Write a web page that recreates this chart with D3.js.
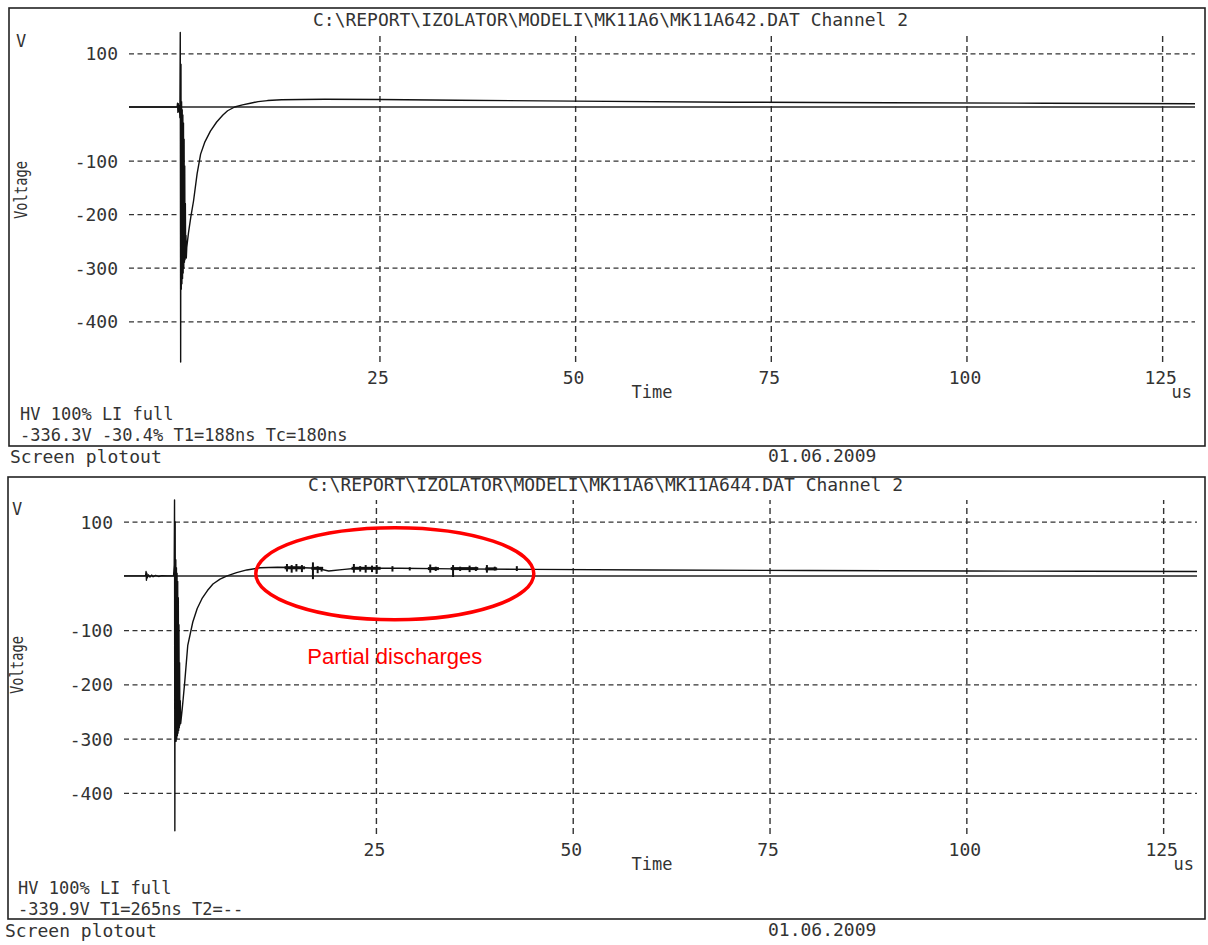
<!DOCTYPE html>
<html>
<head>
<meta charset="utf-8">
<script src="https://cdn.jsdelivr.net/npm/d3@7"></script>
<style>
  body { margin: 0; background: #fff; }
  text { font-family: "DejaVu Sans Mono", monospace; fill: #333; }
</style>
</head>
<body>
<div id="chart"></div>
<script>

// tick values shared by both plots
var voltTicks = [100, -100, -200, -300, -400];
var timeTicks = [25, 50, 75, 100, 125];

// MK11A642.DAT channel 2, [time us, voltage V]
var trace642 = [
  [-7, 0], [-1.0, 0], [-0.85, 0.5], [-0.8, 7], [-0.75, -10], [-0.7, 6], [-0.65, -8], [-0.6, 2], [-0.55, 0],
  [-0.5, -20], [-0.45, 139], [-0.4, -476], [-0.36, 80], [-0.32, -340], [-0.28, 10], [-0.24, -330],
  [-0.2, -5], [-0.16, -320], [-0.12, -15], [-0.08, -310], [-0.04, -30], [0.0, -300], [0.04, -60],
  [0.08, -290], [0.12, -110], [0.16, -285], [0.2, -180], [0.24, -280], [0.28, -240], [0.32, -282], [0.38, -262],
  [0.6, -235], [0.9, -205], [1.25, -175], [1.7, -125], [2.15, -88], [2.7, -65], [3.4, -45], [4.2, -28],
  [5.0, -15], [5.6, -7], [6.5, 0], [7.5, 4], [8.5, 7], [9.5, 10], [10.7, 12], [12.5, 13.5], [15, 14],
  [18, 14.5], [25, 14], [35, 12.5], [50, 11], [70, 9], [90, 8], [110, 7], [129.2, 6]
];

// MK11A644.DAT channel 2, [time us, voltage V]
var trace644 = [
  [-7, 0], [-4.4, 0], [-4.25, 1], [-4.2, 8], [-4.15, -8], [-4.1, 5], [-4.05, -4], [-3.9, 2], [-3.7, -2],
  [-3.5, 1.5], [-3.3, -1.5], [-3.0, 1], [-2.6, -1], [-2.2, 0.5], [-1.5, 0], [-0.7, 0],
  [-0.62, 20], [-0.58, 140], [-0.54, -470], [-0.5, 100], [-0.46, -300], [-0.42, 30], [-0.38, -305],
  [-0.34, 15], [-0.3, -300], [-0.26, 5], [-0.22, -295], [-0.18, -10], [-0.14, -290], [-0.1, -40],
  [-0.06, -285], [-0.02, -90], [0.02, -280], [0.06, -160], [0.1, -275], [0.15, -230], [0.2, -272],
  [0.4, -245], [0.72, -195], [1.1, -128], [1.74, -85], [2.3, -60], [2.9, -42], [3.6, -27], [4.3, -15],
  [5.2, -6], [6.1, 0], [7.3, 6], [8.6, 11], [10.3, 15], [12.5, 16], [15, 15.5], [17.5, 14], [19, 9],
  [21, 12], [22.5, 14], [28, 14], [35, 13], [45, 12], [60, 11], [80, 10], [100, 9], [115, 8.5], [129.3, 8]
];

// partial discharge pulses on MK11A644, [time us, high V, low V]
var pd644 = [
  [13.7, 22, 8], [14.3, 20, 6], [14.9, 22, 8], [15.6, 20, 7], [17.0, 25, -6], [17.6, 18, 5], [18.1, 16, 8],
  [22.2, 22, 6], [23.0, 18, 8], [23.7, 20, 6], [24.5, 19, 7], [25.1, 20, 4], [27.1, 18, 8], [29.3, 16, 10],
  [31.9, 21, 6], [32.6, 17, 9], [34.8, 20, -2], [35.7, 17, 9], [36.9, 19, 7], [37.7, 17, 9], [39.1, 20, 6],
  [40.1, 17, 10], [42.9, 18, 9]
];

// stretches where the discharge noise thickens the trace, [from us, to us, V]
var pdNoise644 = [
  [13.4, 16.0, 15], [16.8, 18.3, 14], [21.9, 25.6, 14], [31.6, 33.0, 13.5], [34.5, 38.0, 13.5], [38.9, 40.4, 13]
];

var svg = d3.select('#chart')
  .append('svg')
  .attr('width', 1208)
  .attr('height', 945);

var makePanel = function(opts) {

  var panel = {};
  var g = svg.append('g');

  var x = d3.scaleLinear().domain([-7, opts.tEnd]).range([opts.left, opts.right]);
  var y = d3.scaleLinear().domain([-476, 140]).range([opts.bottom, opts.top]);
  panel.x = x;
  panel.y = y;

  // frame round the plot
  g.append('rect')
    .attr('x', opts.box[0])
    .attr('y', opts.box[1])
    .attr('width', opts.box[2])
    .attr('height', opts.box[3])
    .style('fill', 'none')
    .style('stroke', '#222')
    .style('stroke-width', 1.6);

  // horizontal grid + voltage labels
  var yAxis = g.append('g')
    .attr('transform', 'translate(' + opts.left + ',0)')
    .call(d3.axisLeft(y).tickValues(voltTicks).tickSize(-(opts.right - opts.left)).tickPadding(11)
      .tickFormat(function(d) { return d; }));
  yAxis.select('.domain').remove();
  yAxis.selectAll('line')
    .style('stroke', '#333')
    .style('stroke-width', 1.3)
    .style('stroke-dasharray', '5,3.5');
  yAxis.selectAll('text')
    .attr('dy', '0.36em')
    .style('font-family', '"DejaVu Sans Mono", monospace')
    .style('font-size', '18px')
    .style('fill', '#333');

  // vertical grid + time labels
  var xAxis = g.append('g')
    .attr('transform', 'translate(0,' + opts.bottom + ')')
    .call(d3.axisBottom(x).tickValues(timeTicks).tickSize(-(opts.bottom - opts.top)).tickPadding(9));
  xAxis.select('.domain').remove();
  xAxis.selectAll('line')
    .style('stroke', '#333')
    .style('stroke-width', 1.4)
    .style('stroke-dasharray', '6,4');
  xAxis.selectAll('text')
    .attr('x', -2)
    .style('font-family', '"DejaVu Sans Mono", monospace')
    .style('font-size', '18px')
    .style('fill', '#333');

  // zero line is solid
  g.append('line')
    .attr('x1', opts.left)
    .attr('x2', opts.right)
    .attr('y1', y(0))
    .attr('y2', y(0))
    .style('stroke', '#222')
    .style('stroke-width', 1.5);

  var line = d3.line()
    .x(function(d) { return x(d[0]); })
    .y(function(d) { return y(d[1]); });

  g.append('path')
    .datum(opts.trace)
    .attr('d', line)
    .style('fill', 'none')
    .style('stroke', '#111')
    .style('stroke-width', 1.4)
    .style('stroke-linejoin', 'round');

  if (opts.noise) {
    g.selectAll('line.noise')
      .data(opts.noise)
      .enter()
      .append('line')
      .attr('class', 'noise')
      .attr('x1', function(d) { return x(d[0]); })
      .attr('x2', function(d) { return x(d[1]); })
      .attr('y1', function(d) { return y(d[2]); })
      .attr('y2', function(d) { return y(d[2]); })
      .style('stroke', '#111')
      .style('stroke-width', 3);
  }

  if (opts.pulses) {
    g.selectAll('line.pd')
      .data(opts.pulses)
      .enter()
      .append('line')
      .attr('class', 'pd')
      .attr('x1', function(d) { return x(d[0]); })
      .attr('x2', function(d) { return x(d[0]); })
      .attr('y1', function(d) { return y(d[1]); })
      .attr('y2', function(d) { return y(d[2]); })
      .style('stroke', '#111')
      .style('stroke-width', 2);
  }

  // texts
  g.append('text')
    .attr('x', opts.titleX)
    .attr('y', opts.titleY)
    .attr('textLength', 595)
    .attr('lengthAdjust', 'spacingAndGlyphs')
    .style('font-size', '18px')
    .text(opts.title);

  g.append('text')
    .attr('x', opts.vLabel[0])
    .attr('y', opts.vLabel[1])
    .style('font-size', '17px')
    .text('V');

  g.append('text')
    .attr('transform', 'translate(' + opts.voltage[0] + ',' + opts.voltage[1] + ') rotate(-90)')
    .attr('text-anchor', 'middle')
    .attr('textLength', 58)
    .attr('lengthAdjust', 'spacingAndGlyphs')
    .style('font-size', '17px')
    .text('Voltage');

  g.append('text')
    .attr('x', 652)
    .attr('y', opts.bottom + 36)
    .attr('text-anchor', 'middle')
    .style('font-size', '17px')
    .text('Time');

  g.append('text')
    .attr('x', opts.right - 3)
    .attr('y', opts.bottom + 36)
    .attr('text-anchor', 'end')
    .style('font-size', '17px')
    .text('us');

  g.selectAll('text.info')
    .data(opts.info)
    .enter()
    .append('text')
    .attr('class', 'info')
    .attr('x', opts.infoX)
    .attr('y', function(d, i) { return opts.infoY[i]; })
    .style('font-size', '17px')
    .text(function(d) { return d; });

  g.append('text')
    .attr('x', opts.footX)
    .attr('y', opts.footY)
    .style('font-size', '18px')
    .text('Screen plotout');

  g.append('text')
    .attr('x', 768)
    .attr('y', opts.footY - 1)
    .style('font-size', '18px')
    .text('01.06.2009');

  panel.g = g;
  return panel;
};

var top642 = makePanel({
  box: [9, 8, 1196, 438],
  left: 129, right: 1195, top: 32, bottom: 362, tEnd: 129.2,
  trace: trace642,
  title: 'C:\\REPORT\\IZOLATOR\\MODELI\\MK11A6\\MK11A642.DAT Channel 2',
  titleX: 313, titleY: 26,
  vLabel: [16, 47], voltage: [27, 190],
  info: ['HV 100% LI full', '-336.3V -30.4% T1=188ns Tc=180ns'],
  infoX: 20, infoY: [420, 441],
  footX: 10, footY: 463
});

var bottom644 = makePanel({
  box: [8, 477, 1197, 442],
  left: 124, right: 1197, top: 500, bottom: 834, tEnd: 129.3,
  trace: trace644,
  noise: pdNoise644,
  pulses: pd644,
  title: 'C:\\REPORT\\IZOLATOR\\MODELI\\MK11A6\\MK11A644.DAT Channel 2',
  titleX: 308, titleY: 491,
  vLabel: [12, 515], voltage: [23, 665],
  info: ['HV 100% LI full', '-339.9V T1=265ns T2=--'],
  infoX: 18, infoY: [894, 915],
  footX: 5, footY: 937
});

// red note round the discharges
bottom644.g.append('ellipse')
  .attr('cx', bottom644.x(27.4))
  .attr('cy', bottom644.y(4))
  .attr('rx', 139)
  .attr('ry', 46)
  .style('fill', 'none')
  .style('stroke', '#f00')
  .style('stroke-width', 3.5);

bottom644.g.append('text')
  .attr('x', bottom644.x(27.4))
  .attr('y', bottom644.y(-162))
  .attr('text-anchor', 'middle')
  .style('font-family', '"Liberation Sans", Arial, sans-serif')
  .style('font-size', '22px')
  .style('fill', '#f00')
  .text('Partial discharges');

</script>
</body>
</html>
